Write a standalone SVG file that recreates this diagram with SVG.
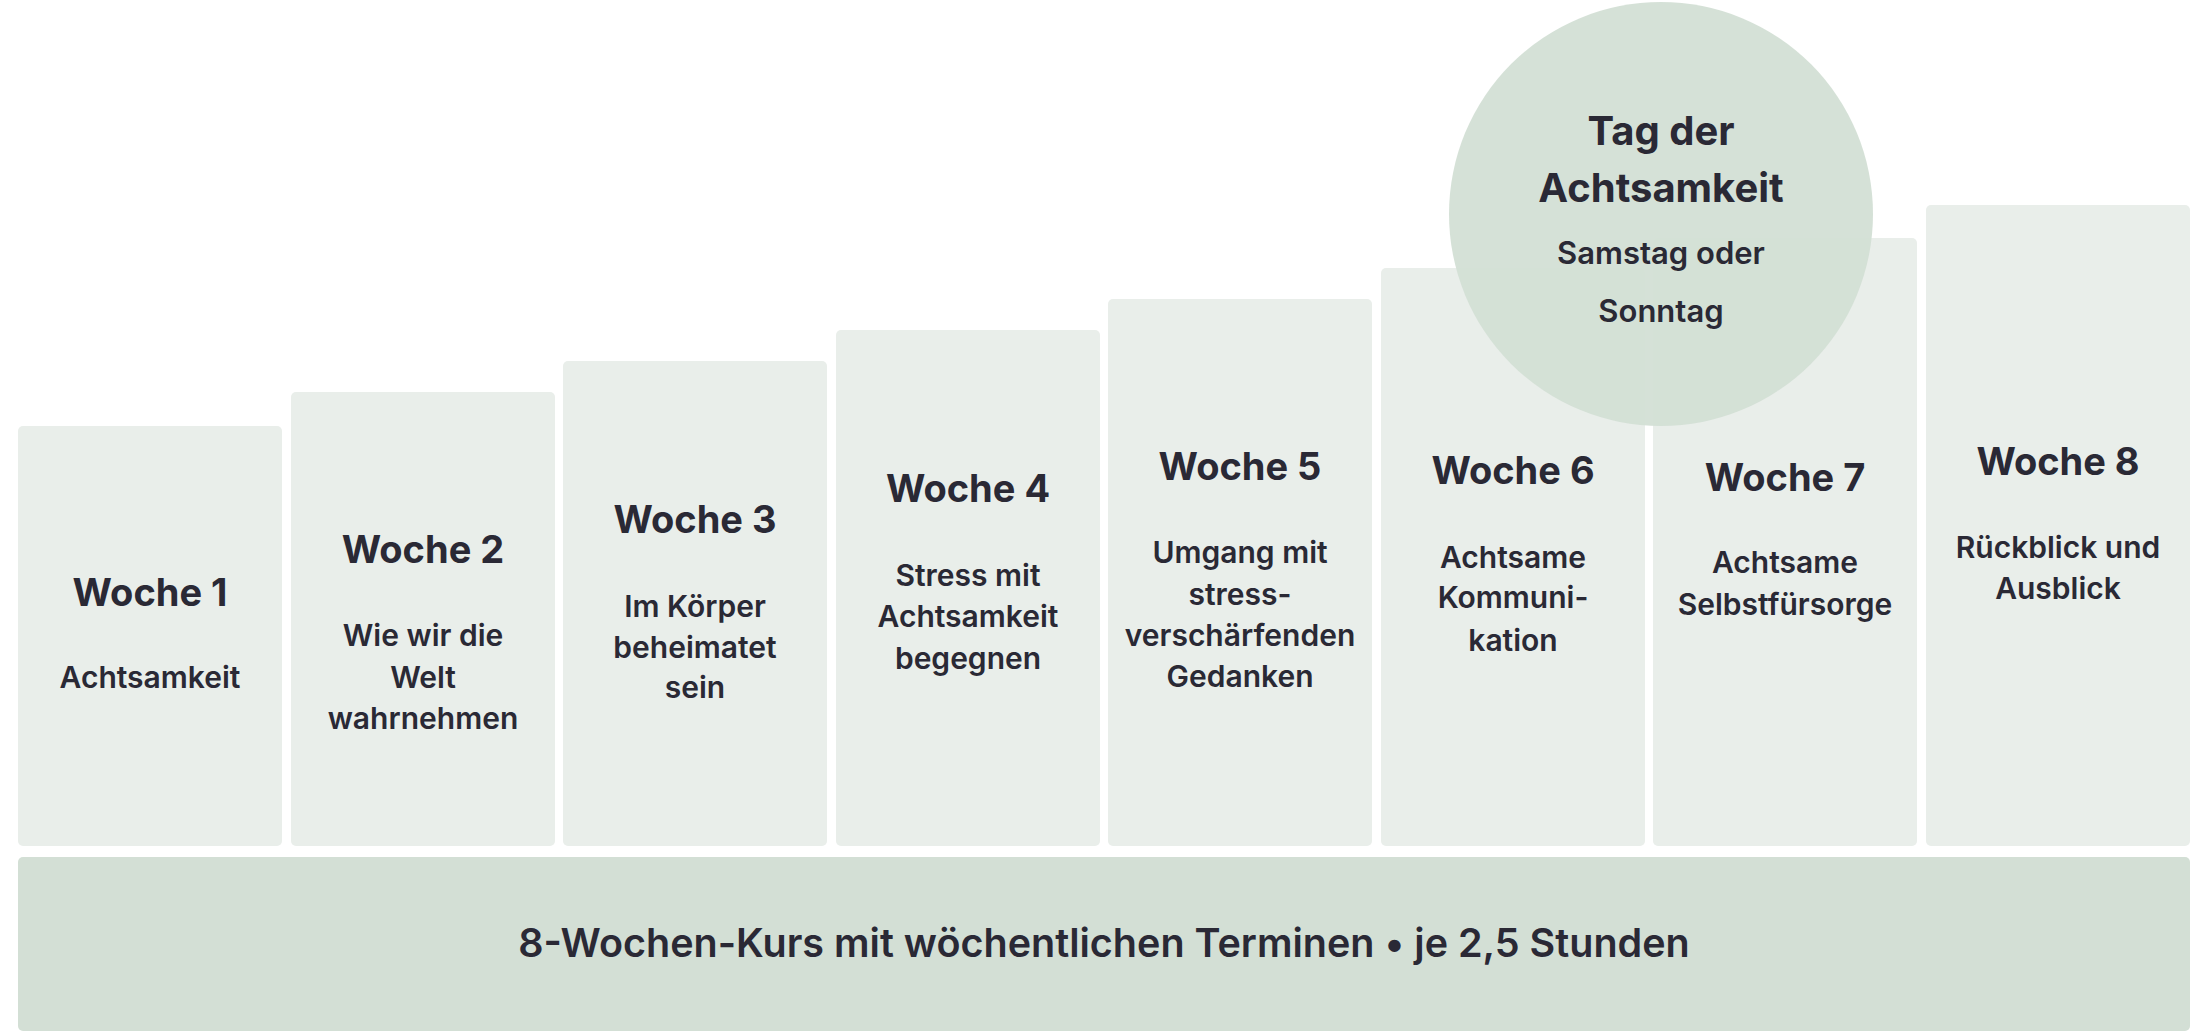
<svg xmlns="http://www.w3.org/2000/svg" width="2204" height="1035" viewBox="0 0 2204 1035">
<style>
.box{fill:#e9eeea}
.t{font-family:Inter,"Liberation Sans",sans-serif;fill:#2a2935;text-anchor:middle}
.h{font-size:38px;font-weight:700}
.s{font-size:30px;font-weight:600}
.cs{font-size:31px;font-weight:600}
.ch{font-size:40px;font-weight:700}
.bar{font-size:39.5px;font-weight:600}
</style>
<rect width="2204" height="1035" fill="#ffffff"/>
<g id="week1"><rect class="box" x="18" y="426" width="264" height="420" rx="5"/>
<text class="t h" x="150" y="606">Woche 1</text>
<text class="t s" x="150" y="688">Achtsamkeit</text></g>
<g id="week2"><rect class="box" x="291" y="392" width="264" height="454" rx="5"/>
<text class="t h" x="423" y="563">Woche 2</text>
<text class="t s" x="423" y="646">Wie wir die</text>
<text class="t s" x="423" y="688">Welt</text>
<text class="t s" x="423" y="729">wahrnehmen</text></g>
<g id="week3"><rect class="box" x="563" y="361" width="264" height="485" rx="5"/>
<text class="t h" x="695" y="533">Woche 3</text>
<text class="t s" x="695" y="617">Im Körper</text>
<text class="t s" x="695" y="658">beheimatet</text>
<text class="t s" x="695" y="698">sein</text></g>
<g id="week4"><rect class="box" x="836" y="330" width="264" height="516" rx="5"/>
<text class="t h" x="968" y="502">Woche 4</text>
<text class="t s" x="968" y="586">Stress mit</text>
<text class="t s" x="968" y="627">Achtsamkeit</text>
<text class="t s" x="968" y="669">begegnen</text></g>
<g id="week5"><rect class="box" x="1108" y="299" width="264" height="547" rx="5"/>
<text class="t h" x="1240" y="480">Woche 5</text>
<text class="t s" x="1240" y="563">Umgang mit</text>
<text class="t s" x="1240" y="605">stress-</text>
<text class="t s" x="1240" y="646">verschärfenden</text>
<text class="t s" x="1240" y="687">Gedanken</text></g>
<g id="week6"><rect class="box" x="1381" y="268" width="264" height="578" rx="5"/>
<text class="t h" x="1513" y="484">Woche 6</text>
<text class="t s" x="1513" y="568">Achtsame</text>
<text class="t s" x="1513" y="608">Kommuni-</text>
<text class="t s" x="1513" y="651">kation</text></g>
<g id="week7"><rect class="box" x="1653" y="238" width="264" height="608" rx="5"/>
<text class="t h" x="1785" y="491">Woche 7</text>
<text class="t s" x="1785" y="573">Achtsame</text>
<text class="t s" x="1785" y="615">Selbstfürsorge</text></g>
<g id="week8"><rect class="box" x="1926" y="205" width="264" height="641" rx="5"/>
<text class="t h" x="2058" y="475">Woche 8</text>
<text class="t s" x="2058" y="558">Rückblick und</text>
<text class="t s" x="2058" y="599">Ausblick</text></g>
<g id="tag"><circle cx="1661" cy="214" r="212" fill="#d3dfd5" fill-opacity="0.95"/>
<text class="t ch" x="1661" y="145">Tag der</text>
<text class="t ch" x="1661" y="202">Achtsamkeit</text>
<text class="t cs" x="1661" y="264">Samstag oder</text>
<text class="t cs" x="1661" y="322">Sonntag</text></g>
<g id="course"><rect x="18" y="857" width="2172" height="174" rx="5" fill="#d3dfd5"/>
<text class="t bar" x="1104" y="957">8-Wochen-Kurs mit wöchentlichen Terminen • je 2,5 Stunden</text></g>
<g id="connectors"></g>
</svg>
